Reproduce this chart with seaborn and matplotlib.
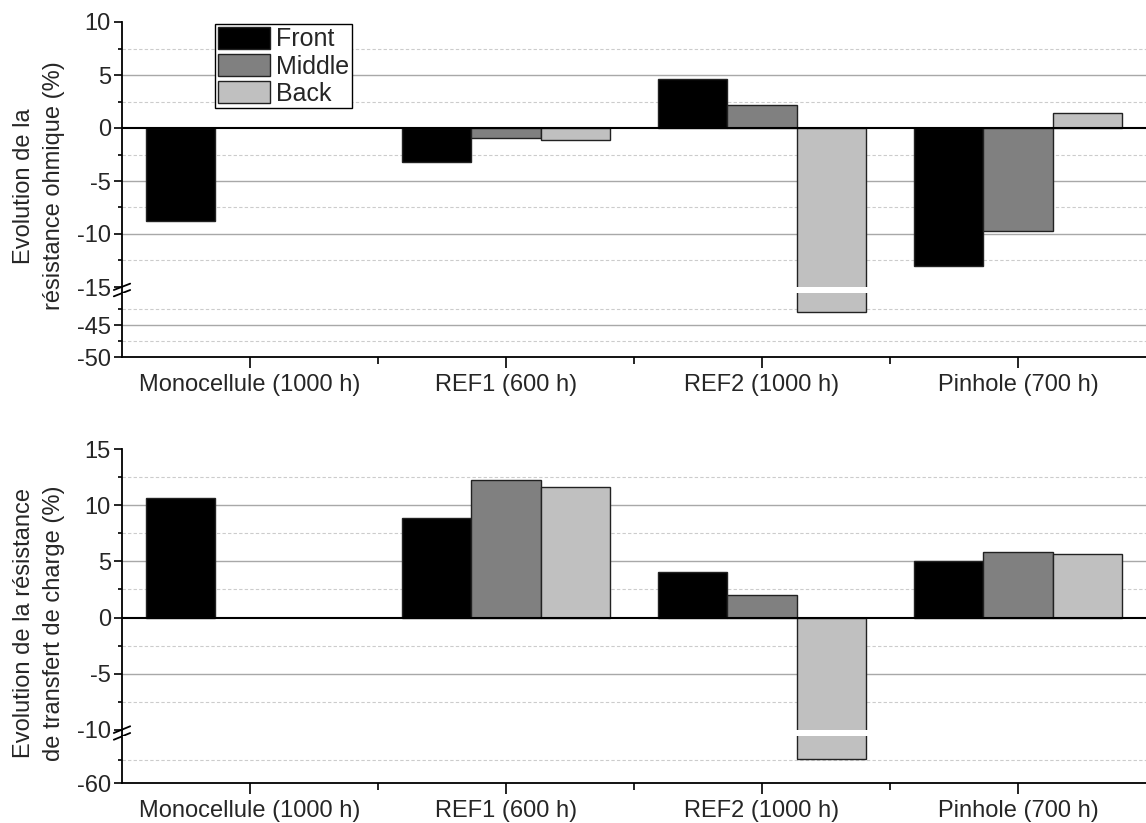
import numpy as np
import pandas as pd
import seaborn as sns
import matplotlib.pyplot as plt
from matplotlib.patches import Patch
from matplotlib.ticker import FixedLocator

# données
categories = ['Monocellule (1000 h)', 'REF1 (600 h)', 'REF2 (1000 h)', 'Pinhole (700 h)']
series = ['Front', 'Middle', 'Back']
couleurs = ['#000000', '#808080', '#c0c0c0']

ohm_front = [-8.8, -3.25, 4.6, -13.0]
ohm_middle = [np.nan, -0.97, 2.15, -9.7]
ohm_back = [np.nan, -1.1, -42.9, 1.45]

tc_front = [10.65, 8.85, 4.1, 5.0]
tc_middle = [np.nan, 12.2, 2.0, 5.85]
tc_back = [np.nan, 11.65, -57.4, 5.65]

sns.set_theme(style='white')
plt.rcParams['font.family'] = ['Liberation Sans', 'DejaVu Sans']
plt.rcParams['font.size'] = 17
FS = 17


def long_df(front, middle, back):
    rows = []
    for s, vals in zip(series, [front, middle, back]):
        for c, v in zip(categories, vals):
            if not np.isnan(v):
                rows.append({'cat': c, 'serie': s, 'val': v})
    return pd.DataFrame(rows)


def style_axe(ax, ylim, majors, minors, labels, show_x):
    ax.set_ylim(*ylim)
    ax.set_xlim(-0.5, 3.5)
    ax.yaxis.set_major_locator(FixedLocator(majors))
    ax.yaxis.set_minor_locator(FixedLocator(minors))
    ax.set_yticklabels(labels)
    ax.grid(False)
    for y in majors:
        if y != 0 and ylim[0] < y < ylim[1]:
            ax.axhline(y, color='#a8a8a8', lw=1.0, zorder=0)
    for y in minors:
        ax.axhline(y, color='#cccccc', lw=0.8, ls=(0, (3, 2)), zorder=0)
    ax.tick_params(axis='y', which='major', direction='out', length=6, width=1.2,
                   left=True, labelsize=FS, pad=2, color='black')
    ax.tick_params(axis='y', which='minor', direction='out', length=3, width=1.2,
                   left=True, color='black')
    for sp in ['top', 'right', 'bottom']:
        ax.spines[sp].set_visible(False)
    ax.spines['left'].set_color('black')
    ax.spines['left'].set_linewidth(1.3)
    ax.set_xlabel('')
    ax.set_ylabel('')
    if show_x:
        ax.spines['bottom'].set_visible(True)
        ax.spines['bottom'].set_color('black')
        ax.spines['bottom'].set_linewidth(1.3)
        ax.set_xticks(range(len(categories)))
        ax.set_xticklabels(categories)
        ax.xaxis.set_minor_locator(FixedLocator([0.5, 1.5, 2.5]))
        ax.tick_params(axis='x', which='major', direction='out', length=8, width=1.2,
                       bottom=True, labelsize=FS, pad=4, color='black')
        ax.tick_params(axis='x', which='minor', direction='out', length=5, width=1.2,
                       bottom=True, color='black')
    else:
        ax.set_xticks([])


def panneau(fig, rect_haut, rect_bas, df, lim_haut, lim_bas, maj_h, min_h, lab_h,
            maj_b, min_b, lab_b, legende):
    ax_h = fig.add_axes(rect_haut)
    ax_b = fig.add_axes(rect_bas)
    for ax in [ax_h, ax_b]:
        sns.barplot(data=df, x='cat', y='val', hue='serie', order=categories,
                    hue_order=series, palette=couleurs, width=0.81, errorbar=None,
                    edgecolor='#222222', linewidth=1.0, saturation=1, ax=ax,
                    legend=False, zorder=2)
    style_axe(ax_h, lim_haut, maj_h, min_h, lab_h, False)
    style_axe(ax_b, lim_bas, maj_b, min_b, lab_b, True)
    ax_h.axhline(0, color='black', lw=1.5, zorder=3)
    # continuité de l'axe gauche et marque de coupure
    gap = (rect_haut[1] - (rect_bas[1] + rect_bas[3])) / rect_haut[3]
    ax_h.plot([0, 0], [0, -gap], transform=ax_h.transAxes, color='black', lw=1.3,
              clip_on=False)
    for dy in [-0.012, 0.012]:
        ax_h.plot([-0.008, 0.008], [dy - gap / 2 - 0.012, dy - gap / 2 + 0.012],
                  transform=ax_h.transAxes, color='black', lw=1.3, clip_on=False)
    if legende:
        handles = [Patch(facecolor=c, edgecolor='#222222', lw=1.0) for c in couleurs]
        leg = ax_h.legend(handles, series, loc='upper left', bbox_to_anchor=(0.091, 0.992),
                          fontsize=18, frameon=True, fancybox=False, framealpha=1,
                          edgecolor='black', borderpad=0.1, labelspacing=0.1,
                          handlelength=2.1, handleheight=1.0, handletextpad=0.25,
                          borderaxespad=0)
        leg.get_frame().set_linewidth(1.0)
    return ax_h, ax_b


fig = plt.figure(figsize=(11.46, 8.23), dpi=100)

df_ohm = long_df(ohm_front, ohm_middle, ohm_back)
df_tc = long_df(tc_front, tc_middle, tc_back)

gauche = 122 / 1146
larg = 1024 / 1146
H = 823

panneau(fig,
        [gauche, 1 - 287 / H, larg, 265 / H],
        [gauche, 1 - 357 / H, larg, 64 / H],
        df_ohm, (-15, 10), (-50, -40),
        [10, 5, 0, -5, -10, -15], [7.5, 2.5, -2.5, -7.5, -12.5],
        ['10', '5', '0', '-5', '-10', '-15'],
        [-45, -50], [-42.5, -47.5], ['-45', '-50'], True)

panneau(fig,
        [gauche, 1 - 730 / H, larg, 281 / H],
        [gauche, 1 - 783 / H, larg, 47 / H],
        df_tc, (-10, 15), (-60, -55),
        [15, 10, 5, 0, -5, -10], [12.5, 7.5, 2.5, -2.5, -7.5],
        ['15', '10', '5', '0', '-5', '-10'],
        [-60], [-57.5], ['-60'], False)

fig.text(39 / 1146, 1 - 186 / H, 'Evolution de la\nrésistance ohmique (%)',
         rotation=90, ha='center', va='center', fontsize=FS, linespacing=1.5)
fig.text(39 / 1146, 1 - 623 / H, 'Evolution de la résistance\nde transfert de charge (%)',
         rotation=90, ha='center', va='center', fontsize=FS, linespacing=1.5)

fig.savefig('out.png', dpi=100)
